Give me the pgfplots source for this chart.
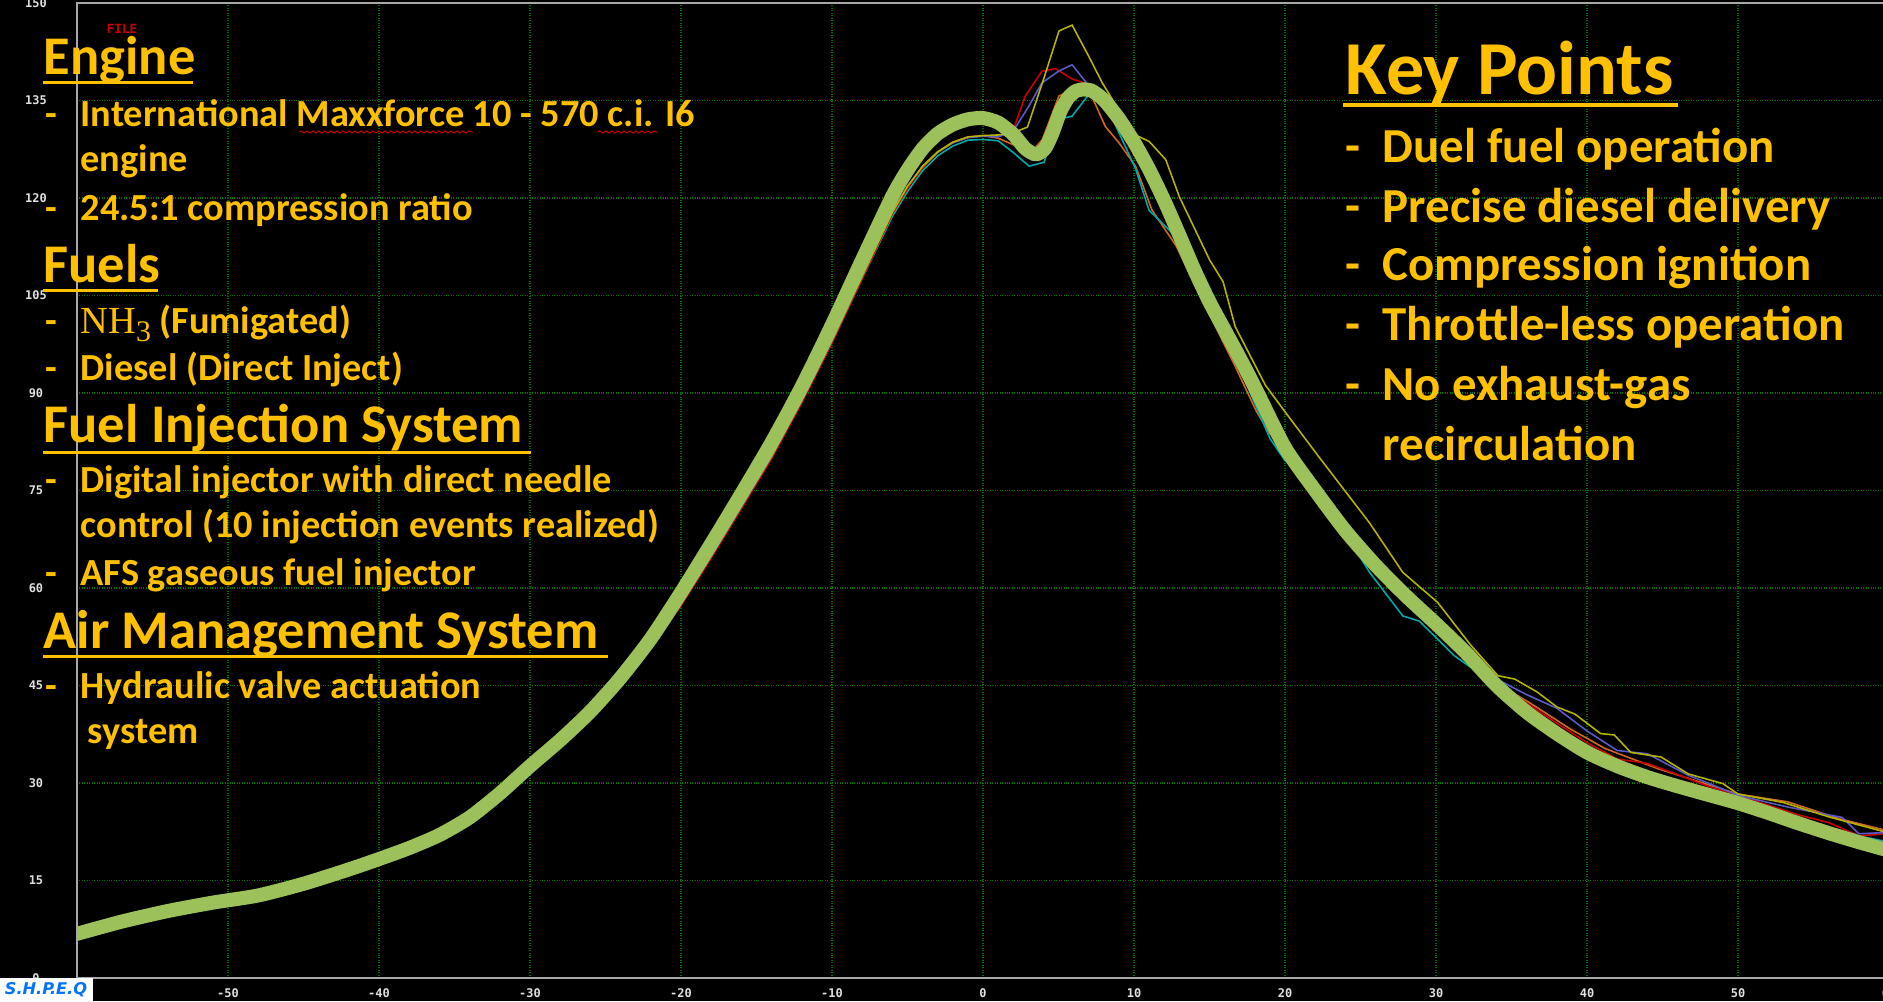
\documentclass[border=0pt]{standalone}
\usepackage{fontspec}
\usepackage{pgfplots}
\usepackage{pgfplotstable}
\pgfplotsset{compat=1.18}
\usetikzlibrary{decorations.pathmorphing}
\setmainfont{Carlito}
\newfontfamily\carlito{Carlito}
\newfontfamily\monofont{DejaVu Sans Mono}
\newfontfamily\serifnh{Liberation Serif}
\definecolor{txt}{HTML}{FFC000}
\definecolor{meangreen}{HTML}{9CC05A}
\definecolor{gridg}{HTML}{007000}
\definecolor{cred}{HTML}{C80000}
\definecolor{cblue}{HTML}{5A5AC8}
\definecolor{corange}{HTML}{D06820}
\definecolor{ccyan}{HTML}{00A8A8}
\definecolor{cyell}{HTML}{B4B400}
\definecolor{framegray}{HTML}{A8A8A8}

\pgfplotstableread{
x y
-60 6.8
-57 8.7
-54 10.3
-51 11.6
-48 12.7
-45 14.5
-42 16.7
-40 18.3
-38 20.0
-36 22.0
-34 24.7
-32 28.4
-30 32.6
-28 36.6
-26 41.0
-24 46.2
-22 52.2
-20 59.3
-18 66.8
-16 74.5
-14 82.4
-12 91.0
-10 100.5
-8 110.5
-6 120.3
-5 124.3
-4 127.6
-3 129.9
-2 131.3
-1 132.1
0 132.3
1 131.6
2 129.8
2.8 127.6
3.5 126.7
4.1 127.6
4.6 130.0
5.1 133.2
5.6 135.3
6.1 136.4
6.6 136.7
7.2 136.5
8 135.1
9 132.2
10 128.6
11 124.4
12 119.6
13 114.3
14 108.9
15 104.0
16 99.7
17 95.4
18 90.9
20 81.6
22 75.0
24 68.8
26 63.5
28 58.8
30 54.5
32 50.0
34 45.0
36 40.9
38 37.6
40 34.7
42 32.6
44 30.9
46 29.5
48 28.2
50 26.9
52 25.4
54 23.8
56 22.3
58 20.9
60 19.6
}\meantable

\newcommand{\body}{\carlito\bfseries\fontsize{10.9}{13}\selectfont}
\newcommand{\head}{\carlito\bfseries\fontsize{15.5}{18}\selectfont}
\newcommand{\kphead}{\carlito\bfseries\fontsize{21.7}{25}\selectfont}
\newcommand{\kpbody}{\carlito\bfseries\fontsize{13.9}{16}\selectfont}

\begin{document}
\begin{tikzpicture}
\fill[black] (0,0) rectangle (188.3mm,100.1mm);
\begin{axis}[
  at={(7.7mm,2.3mm)}, anchor=south west,
  scale only axis, width=181.2mm, height=97.5mm,
  xmin=-60, xmax=60, ymin=0, ymax=150,
  xtick={-60,-50,...,60}, ytick={0,15,...,150},
  xticklabels={-60,-50,-40,-30,-20,-10,0,10,20,30,40,50,60},
  yticklabels={0,15,30,45,60,75,90,105,120,135,\raisebox{-0.6mm}{150}},
  major tick length=0pt,
  grid=major,
  major grid style={gridg, line width=0.35pt, dash pattern=on 0.25pt off 0.45pt},
  axis line style={framegray, line width=0.7pt},
  ticklabel style={font=\monofont\bfseries\fontsize{3.4}{4}\selectfont, text=white!88!black},
  xticklabel style={anchor=center, yshift=-1.5mm},
  yticklabel style={anchor=center, xshift=-4.1mm},
  clip=true,
]
% thin traces
\addplot[corange, line width=0.45pt] coordinates {
(-60,7.4) (-57,8.9) (-54,10.4) (-51,11.4) (-48,12.5) (-45,14.3) (-42,16.5) (-40,18.2) (-38,19.9) (-36.5,21.9) (-34,24.3) (-32,28.0) (-30,32.2) (-28,36.2) (-26,40.3) (-24,45.3) (-22,51.0)
(-20,57.4) (-18,64.8) (-16,72.4) (-14,80.1) (-12,88.6) (-10,97.8) (-8,107.7) (-6,117.6) (-5,121.6) (-4,124.7) (-3,127.0) (-2,128.5) (-1,129.3) (0,129.6) (1,129.2) (2,128.2) (3.27,127.2) (3.93,129.0) (5.03,135.7) (6.36,137.1) (7.0,136.7) (8.1,131.0) (9.0,128.5) (10.1,124.9) (11.2,118.1) (12.8,112.6) (14.5,104.4) (16.7,94.1) (18.1,87.2) (19,83.7) (19.9,82.7) (21,78.0) (23,71.5) (25,65.5) (27,60.5) (29,56.3) (31,52.3) (33,47.5) (35,44.0) (36.3,42.2) (38.9,38.3) (41.2,35.3) (44.7,32.2) (47,30.5) (50,28.3) (53.3,27.1) (56.7,24.5) (60,22.6)};
\addplot[ccyan, line width=0.45pt] coordinates {
(-60,7.2) (-57,8.8) (-54,10.4) (-51,11.5) (-48,12.6) (-45,14.4) (-42,16.5) (-40,18.1) (-38,19.8) (-36.5,21.7) (-34,24.2) (-32,27.9) (-30,32.1) (-28,36.1) (-26,40.3) (-24,45.2) (-22,51.0)
(-20,57.6) (-18,65.0) (-16,72.6) (-14,80.2) (-12,88.7) (-10,97.9) (-8,107.6) (-6,117.2) (-5,121.0) (-4,124.2) (-3,126.5) (-2,128.0) (-1,128.9) (0,129.0) (1,128.8) (2,127.0) (3.05,124.9) (4.04,125.5) (5.03,132.1) (5.9,132.6) (7.0,135.9) (8.3,133.6) (10.1,124.5) (11,118.1) (12.8,114.0) (14.5,106.4) (16.7,95.4) (19,83.0) (20,79.6) (21.2,78.2) (23.4,70.7) (25.6,62.4) (27.8,55.7) (28.9,54.9) (31.2,49.6) (33.8,45.3) (36.3,39.9) (38.9,37.3) (41,34.5) (44,30.4) (47,29.0) (50,27.6) (52.2,24.7) (56,22.8) (60,20.9)};
\addplot[cred, line width=0.45pt] coordinates {
(-60,7.6) (-57,8.9) (-54,10.2) (-51,11.3) (-48,12.5) (-45,14.3) (-42,16.6) (-40,18.1) (-38,20.0) (-36.5,21.6) (-34,24.2) (-32,27.8) (-30,32.0) (-28,36.0) (-26,40.2) (-24,45.1) (-22,50.8)
(-20,57.3) (-18,64.6) (-16,72.2) (-14,79.9) (-12,88.5) (-10,97.7) (-8,107.6) (-6,117.6) (-5,121.5) (-4,124.8) (-3,127.1) (-2,128.6) (-1,129.4) (0,129.6) (1,129.5) (2,130.5) (2.8,135.7) (3.9,139.5) (4.8,139.9) (5.9,138.3) (7.0,137.5) (7.9,134.1) (9.0,131.0) (10,127.5) (11,123.5) (12,119.0) (13,114.0) (14,109.0) (15,104.0) (16,99.5) (18,90.5) (20,81.8) (22,74.5) (24,68.5) (26,63.2) (28,58.8) (30,54.5) (32,50.0) (34,45.6) (36,42.3) (38,39.2) (40,36.2) (42,33.7) (44,33.0) (46,31.3) (48,29.5) (50,28.1) (52,26.6) (54,25.1) (56,23.9) (58,21.9) (60,22.2)};
\addplot[cblue, line width=0.45pt] coordinates {
(-60,7.5) (-57,8.8) (-54,10.3) (-51,11.4) (-48,12.6) (-45,14.4) (-42,16.6) (-40,18.3) (-38,20.1) (-36.5,21.9) (-34,24.4) (-32,28.1) (-30,32.3) (-28,36.3) (-26,40.4) (-24,45.4) (-22,51.1)
(-20,57.6) (-18,64.9) (-16,72.5) (-14,80.2) (-12,88.8) (-10,98.0) (-8,107.9) (-6,117.9) (-5,121.8) (-4,124.9) (-3,127.1) (-2,128.5) (-1,129.3) (0,129.5) (1,129.4) (2,130.3) (3,134.0) (3.9,137.7) (5,139.5) (5.9,140.5) (7.2,136.7) (8.8,132.1) (10.1,126.4) (11,123.0) (12,118.8) (13,114.0) (14,109.2) (15,104.5) (16,100.0) (18,90.8) (20,82.0) (22,74.6) (24,68.4) (26,63.0) (28,58.6) (30,54.3) (32,49.8) (34,46.0) (36,43.6) (38,41.5) (40,38.0) (42,35.0) (44,34.5) (46.7,31.2) (48,30.0) (50,28.1) (53.3,26.3) (56.9,24.7) (58,22.2) (60,22.4)};
\addplot[cyell, line width=0.45pt] coordinates {
(-60,7.3) (-57,8.7) (-54,10.3) (-51,11.5) (-48,12.6) (-45,14.4) (-42,16.6) (-40,18.2) (-38,19.9) (-36.5,21.8) (-34,24.4) (-32,28.1) (-30,32.3) (-28,36.3) (-26,40.5) (-24,45.5) (-22,51.2)
(-20,57.7) (-18,65.1) (-16,72.7) (-14,80.3) (-12,88.9) (-10,98.1) (-8,108.0) (-6,117.8) (-5,121.8) (-4,124.9) (-3,127.1) (-2,128.6) (-1,129.4) (0,129.6) (1,129.7) (1.94,130.0) (2.94,130.9) (3.93,137.7) (5.03,145.7) (5.9,146.6) (7.0,141.8) (7.9,137.7) (9,133.5) (10,129.8) (11,128.7) (12.1,125.9) (13,120.2) (15,110.5) (15.9,107.1) (16.7,100.2) (18.7,91.2) (20,87.1) (22.2,80.3) (25.6,70.0) (27.8,62.4) (30.1,57.8) (32.3,51.2) (34.1,46.5) (35.2,46.0) (36.7,44.0) (38,41.7) (39.2,40.6) (40.9,37.6) (41.8,37.4) (42.9,34.7) (44.9,34.0) (46.7,31.4) (49,29.9) (50,28.3) (53,27.0) (56,24.8) (60,22.3)};
% mean trace
\addplot[color=meangreen, line width=4pt, smooth, tension=0.4, line cap=round, line join=round] table[x=x,y=y] {\meantable};
\end{axis}

\begin{scope}[x=0.1mm, y=-0.1mm, shift={(0,100.1mm)}]
% logo and file marker
\fill[white] (0,978) rectangle (93,1001);
\node[anchor=center, inner sep=0, text=blue!55!cyan] at (46,990)
  {\fontspec{DejaVu Sans}\bfseries\itshape\fontsize{4.6}{5}\selectfont S.H.P.E.Q};
\node[anchor=center, inner sep=0, text=cred] at (122,28.5)
  {\monofont\bfseries\fontsize{3.6}{4}\selectfont FILE};

% left panel
\begin{scope}[every node/.style={anchor=base west, inner sep=0, text=txt}]
\node at (43,75) {\head Engine};
\node at (45,127) {\body -};
\node at (80,127) {\body International Maxxforce 10 - 570 c.i. I6};
\node at (80,172) {\body engine};
\node at (45,220) {\body -};
\node at (80,220) {\body 24.5:1 compression ratio};
\node at (43,282) {\head Fuels};
\node at (45,333) {\body -};
\node at (80,333) {\body {\serifnh\mdseries NH\raisebox{-0.22em}{\fontsize{8.5}{9}\selectfont 3}} (Fumigated)};
\node at (45,380) {\body -};
\node at (80,380) {\body Diesel (Direct Inject)};
\node at (43,442) {\head Fuel Injection System};
\node at (45,492) {\body -};
\node at (80,492) {\body Digital injector with direct needle};
\node at (80,537) {\body control (10 injection events realized)};
\node at (45,585) {\body -};
\node at (80,585) {\body AFS gaseous fuel injector};
\node at (43,648) {\head Air Management System};
\node at (45,698) {\body -};
\node at (80,698) {\body Hydraulic valve actuation};
\node at (87,743) {\body system};
% right panel
\node at (1345,95) {\kphead Key Points};
\node at (1345,162) {\kpbody -};
\node at (1382,162) {\kpbody Duel fuel operation};
\node at (1345,222) {\kpbody -};
\node at (1382,222) {\kpbody Precise diesel delivery};
\node at (1345,280) {\kpbody -};
\node at (1382,280) {\kpbody Compression ignition};
\node at (1345,340) {\kpbody -};
\node at (1382,340) {\kpbody Throttle-less operation};
\node at (1345,400) {\kpbody -};
\node at (1382,400) {\kpbody No exhaust-gas};
\node at (1382,460) {\kpbody recirculation};
\end{scope}
% underlines
\draw[txt, line width=0.3mm] (43,83) -- (193,83);
\draw[txt, line width=0.3mm] (43,290) -- (158,290);
\draw[txt, line width=0.3mm] (43,452) -- (531,452);
\draw[txt, line width=0.3mm] (43,656) -- (608,656);
\draw[txt, line width=0.4mm] (1343,105) -- (1678,105);
% spell-check marks
\draw[red, line width=0.2pt, decorate, decoration={snake, amplitude=0.12mm, segment length=0.6mm}] (299,132) -- (473,132);
\draw[red, line width=0.2pt, decorate, decoration={snake, amplitude=0.12mm, segment length=0.6mm}] (598,132) -- (658,132);
\end{scope}
\pgfresetboundingbox
\useasboundingbox (0,0) rectangle (188.3mm,100.1mm);
\end{tikzpicture}
\end{document}
